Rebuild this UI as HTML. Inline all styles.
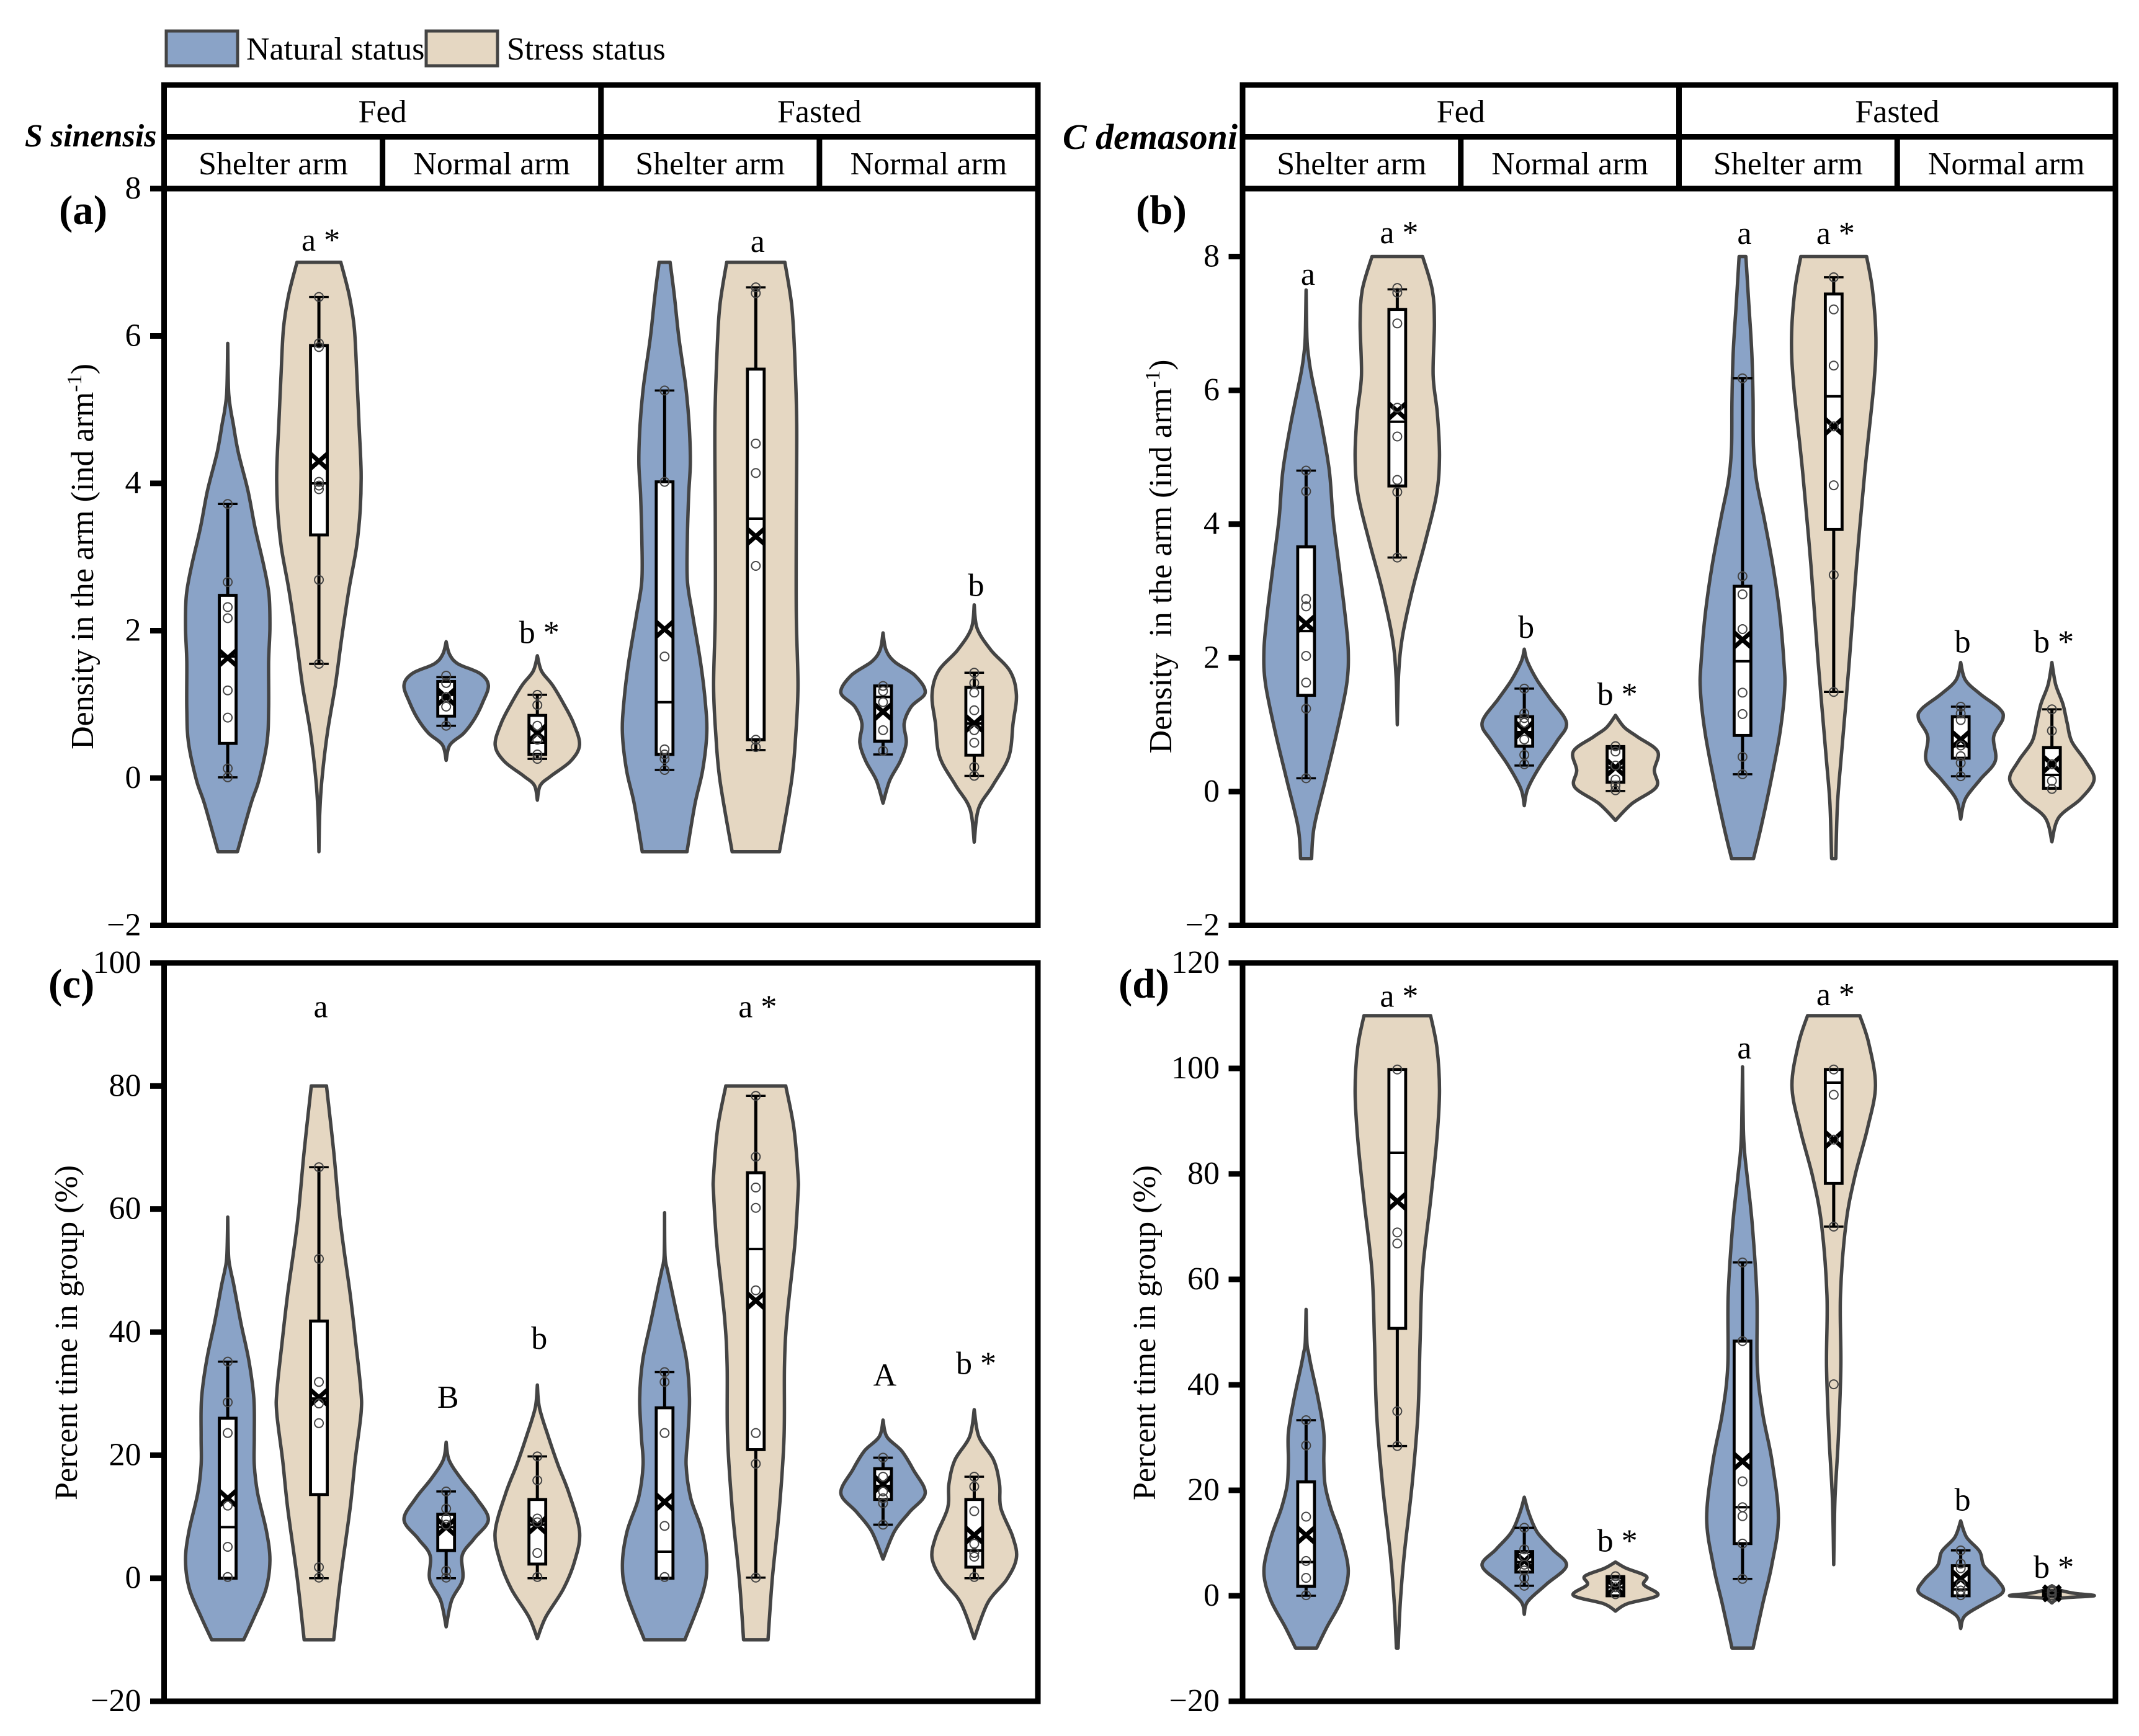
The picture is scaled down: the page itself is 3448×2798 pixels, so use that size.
<!DOCTYPE html>
<html lang="en">
<head>
<meta charset="utf-8">
<title>Density and percent time in group violin plots</title>
<style>
html,body{margin:0;padding:0;background:#fff;}
svg{display:block;font-family:"Liberation Serif","Times New Roman",serif;}
text{fill:#000;}
</style>
</head>
<body>
<svg id="chart" xmlns="http://www.w3.org/2000/svg" width="3448" height="2798" viewBox="0 0 3448 2798">
  <rect x="0" y="0" width="3448" height="2798" fill="#fff"/>
  <g>
    <rect x="268" y="50" width="115" height="56" fill="#8aa3c7" stroke="#444" stroke-width="5"/>
    <text x="397" y="96" font-size="52">Natural status</text>
    <rect x="687" y="50" width="115" height="56" fill="#e5d7c2" stroke="#444" stroke-width="5"/>
    <text x="817" y="96" font-size="52">Stress status</text>
  </g>
  <text x="40" y="236" font-size="52" font-weight="bold" font-style="italic">S sinensis</text>
  <text x="1713" y="240" font-size="58" font-weight="bold" font-style="italic">C demasoni</text>
  <text x="95" y="361" font-size="67" font-weight="bold">(a)</text>
  <text x="1831" y="361" font-size="67" font-weight="bold">(b)</text>
  <text x="78" y="1608" font-size="67" font-weight="bold">(c)</text>
  <text x="1803" y="1608" font-size="67" font-weight="bold">(d)</text>
  <text text-anchor="middle" font-size="52" transform="translate(150,897) rotate(-90)">Density in the arm (ind arm<tspan font-size="34" dy="-19">-1</tspan><tspan dy="19">)</tspan></text>
  <text text-anchor="middle" font-size="52" transform="translate(1888,897) rotate(-90)">Density&#160;&#160;in the arm (ind arm<tspan font-size="34" dy="-19">-1</tspan><tspan dy="19">)</tspan></text>
  <text text-anchor="middle" font-size="52" transform="translate(124,2148) rotate(-90)">Percent time in group (%)</text>
  <text text-anchor="middle" font-size="52" transform="translate(1862,2148) rotate(-90)">Percent time in group (%)</text>
  <g id="plots"></g>
</svg>
<script>
// ---------- shared categories ----------
const facetGroups = ['Fed', 'Fasted'];
const armTypes = ['Shelter arm', 'Normal arm', 'Shelter arm', 'Normal arm'];
const statusNames = ['natural', 'stress'];

// ---------- tick labels ----------
const densityTicksA = [-2, 0, 2, 4, 6, 8];
const densityTicksB = [-2, 0, 2, 4, 6, 8];
const percentTicksC = [-20, 0, 20, 40, 60, 80, 100];
const percentTicksD = [-20, 0, 20, 40, 60, 80, 100, 120];

// ---------- panel (a) ----------
const a1Values = [5.9, 5.26, 5.0, 4.81, 4.42, 3.9, 3.39, 2.87, 2.48, 2.03, 1.58, 0.94, 0.48, -0.03, -0.35, -1];
const a1Density = [0, 0.02, 0.07, 0.13, 0.25, 0.48, 0.65, 0.86, 0.98, 1, 0.97, 0.97, 0.93, 0.74, 0.55, 0.23];
const a2Values = [7, 6.55, 6.1, 5.45, 4.81, 4.16, 3.65, 3.13, 2.55, 1.9, 1.26, 0.61, -0.03, -0.48, -1];
const a2Density = [0.52, 0.72, 0.84, 0.9, 0.95, 1, 0.98, 0.89, 0.71, 0.54, 0.39, 0.2, 0.07, 0.02, 0];
const a3Values = [1.85, 1.68, 1.55, 1.42, 1.26, 1.03, 0.81, 0.61, 0.45, 0.24];
const a3Density = [0, 0.08, 0.28, 0.8, 1, 0.87, 0.68, 0.42, 0.09, 0];
const a4Values = [1.66, 1.45, 1.26, 1, 0.74, 0.45, 0.23, 0.03, -0.1, -0.3];
const a4Density = [0, 0.1, 0.36, 0.63, 0.86, 1, 0.79, 0.33, 0.07, 0];
const a5Values = [7, 6.55, 5.97, 5.32, 4.81, 4.29, 3.84, 3.26, 2.68, 2.23, 1.58, 1.06, 0.61, 0.1, -0.35, -1];
const a5Density = [0.13, 0.23, 0.34, 0.5, 0.58, 0.61, 0.57, 0.54, 0.54, 0.66, 0.85, 0.96, 1, 0.9, 0.72, 0.53];
const a6Values = [7, 6.42, 5.77, 4.81, 3.52, 2.23, 1.26, 0.61, -0.03, -1];
const a6Density = [0.69, 0.85, 0.92, 0.97, 0.96, 0.96, 1, 0.95, 0.85, 0.56];
const a7Values = [1.97, 1.74, 1.58, 1.39, 1.16, 0.97, 0.74, 0.48, 0.23, -0.03, -0.34];
const a7Density = [0, 0.07, 0.27, 0.76, 1, 0.67, 0.5, 0.55, 0.41, 0.16, 0];
const a8Values = [2.35, 2.03, 1.74, 1.45, 1.13, 0.74, 0.29, -0.1, -0.42, -0.87];
const a8Density = [0, 0.07, 0.39, 0.85, 1, 0.92, 0.82, 0.44, 0.1, 0];
// box arrays: low whisker, q1, median, q3, high whisker
const a1Box = [0.01, 0.47, 1.65, 2.48, 3.72];
const a2Box = [1.55, 3.3, 4, 5.87, 6.53];
const a3Box = [0.71, 0.84, 1.13, 1.31, 1.37];
const a4Box = [0.26, 0.32, 0.48, 0.85, 1.13];
const a5Box = [0.11, 0.32, 1.03, 4.02, 5.26];
const a6Box = [0.38, 0.52, 3.52, 5.55, 6.66];
const a7Box = [0.32, 0.5, 1.1, 1.25, 1.25];
const a8Box = [0.03, 0.31, 0.74, 1.23, 1.43];
const aMeans = [1.63, 4.3, 1.1, 0.61, 2.02, 3.28, 0.9, 0.74];
const a1Points = [3.72, 2.66, 2.32, 2.17, 1.19, 0.82, 0.13, 0.01];
const a2Points = [6.53, 5.9, 5.85, 4.02, 3.97, 3.92, 2.69, 1.55];
const a3Points = [1.39, 1.29, 1.1, 0.97, 0.71];
const a4Points = [1.13, 0.99, 0.71, 0.52, 0.32, 0.26];
const a5Points = [5.26, 4.02, 1.65, 0.39, 0.32, 0.26, 0.11];
const a6Points = [6.66, 6.58, 4.54, 4.14, 2.88, 0.52, 0.42];
const a7Points = [1.25, 1.18, 1.03, 0.65, 0.37];
const a8Points = [1.43, 1.29, 1.16, 0.92, 0.65, 0.48, 0.15, 0.03];
const aLabels = ['', 'a *', '', 'b *', '', 'a', '', 'b'];
const aLabelValues = [0, 7.16, 0, 1.83, 0, 7.14, 0, 2.47];

// ---------- panel (b) ----------
const b1Values = [7.5, 6.79, 6.5, 6.22, 5.51, 4.8, 4.09, 3.38, 2.67, 2.1, 1.6, 0.89, 0.18, -0.53, -1];
const b1Density = [0, 0.02, 0.06, 0.13, 0.36, 0.55, 0.64, 0.78, 0.92, 1, 0.96, 0.73, 0.46, 0.19, 0.13];
const b2Values = [8, 7.5, 7, 6.22, 5.65, 5.01, 4.44, 3.73, 3.02, 2.31, 1.74, 1];
const b2Density = [0.6, 0.83, 0.88, 0.85, 0.95, 1, 0.93, 0.66, 0.36, 0.12, 0.03, 0];
const b3Values = [2.13, 1.95, 1.67, 1.39, 1.03, 0.75, 0.39, 0.04, -0.21];
const b3Density = [0, 0.07, 0.3, 0.61, 1, 0.77, 0.38, 0.08, 0];
const b4Values = [1.14, 0.96, 0.82, 0.6, 0.32, 0.07, -0.18, -0.43];
const b4Density = [0, 0.21, 0.52, 1, 0.92, 0.97, 0.39, 0];
const b5Values = [8, 7.28, 6.57, 5.86, 5.15, 4.66, 4.09, 3.38, 2.67, 1.95, 1.53, 0.89, 0.18, -0.53, -1];
const b5Density = [0.08, 0.15, 0.22, 0.25, 0.26, 0.33, 0.51, 0.72, 0.88, 0.98, 1, 0.89, 0.68, 0.44, 0.26];
const b6Values = [8, 7.5, 6.79, 6.08, 4.8, 3.38, 1.95, 0.53, -0.18, -1];
const b6Density = [0.78, 0.92, 1, 0.95, 0.74, 0.54, 0.37, 0.18, 0.09, 0.05];
const b7Values = [1.93, 1.67, 1.46, 1.24, 1.09, 0.82, 0.46, 0.18, -0.11, -0.41];
const b7Density = [0, 0.11, 0.46, 0.92, 1, 0.78, 0.82, 0.46, 0.11, 0];
const b8Values = [1.93, 1.6, 1.31, 1.03, 0.75, 0.46, 0.18, -0.11, -0.39, -0.75];
const b8Density = [0, 0.09, 0.26, 0.36, 0.47, 0.79, 1, 0.68, 0.16, 0];
const b1Box = [0.2, 1.44, 2.4, 3.66, 4.8];
const b2Box = [3.5, 4.57, 5.53, 7.21, 7.51];
const b3Box = [0.39, 0.68, 0.89, 1.12, 1.54];
const b4Box = [0.01, 0.14, 0.36, 0.65, 0.68];
const b5Box = [0.26, 0.84, 1.95, 3.07, 6.18];
const b6Box = [1.49, 3.92, 5.91, 7.44, 7.69];
const b7Box = [0.23, 0.5, 0.68, 1.12, 1.27];
const b8Box = [0.05, 0.05, 0.25, 0.66, 1.23];
const bMeans = [2.51, 5.69, 0.92, 0.36, 2.27, 5.46, 0.78, 0.41];
const b1Points = [4.8, 4.49, 2.88, 2.77, 2.03, 1.63, 1.24, 0.2];
const b2Points = [7.53, 7.46, 7, 5.74, 5.31, 4.66, 4.48, 3.5];
const b3Points = [1.54, 1.17, 1.1, 1.03, 0.78, 0.55, 0.41];
const b4Points = [0.68, 0.6, 0.39, 0.18, 0.09, 0.02];
const b5Points = [6.18, 3.22, 2.95, 2.43, 1.48, 1.16, 0.52, 0.26];
const b6Points = [7.69, 7.21, 6.37, 5.46, 4.58, 3.24, 1.49];
const b7Points = [1.27, 1.17, 1.07, 0.69, 0.53, 0.43, 0.23];
const b8Points = [1.23, 0.91, 0.41, 0.16, 0.04];
const bLabels = ['a', 'a *', 'b', 'b *', 'a', 'a *', 'b', 'b *'];
const bLabelValues = [7.58, 8.2, 2.3, 1.3, 8.19, 8.19, 2.08, 2.08];

// ---------- panel (c) ----------
const c1Values = [58.7, 52.4, 50, 47.8, 41.6, 35.4, 29.2, 23, 18.4, 13.8, 7.6, 2.9, -1.7, -6.3, -10];
const c1Density = [0, 0.02, 0.07, 0.14, 0.31, 0.5, 0.62, 0.63, 0.63, 0.71, 0.92, 1, 0.91, 0.63, 0.38];
const c2Values = [80, 69.4, 57.8, 46.2, 38.5, 30.8, 26.9, 19.2, 11.4, -0.2, -10];
const c2Density = [0.18, 0.35, 0.51, 0.74, 0.87, 0.99, 1, 0.86, 0.74, 0.51, 0.35];
const c3Values = [22.1, 19.2, 16.1, 13, 9.5, 6.4, 3.7, -0.2, -3.6, -7.9];
const c3Density = [0, 0.07, 0.36, 0.72, 1, 0.66, 0.38, 0.39, 0.13, 0];
const c4Values = [31.4, 27.7, 23, 18.4, 13.8, 7.6, 2.9, -1.7, -6.3, -9.8];
const c4Density = [0, 0.05, 0.26, 0.49, 0.75, 1, 0.89, 0.62, 0.2, 0];
const c5Values = [59.4, 52.4, 50, 47.8, 41.6, 35.4, 29.2, 23, 18.4, 13, 7.6, 2.2, -2.5, -10];
const c5Density = [0, 0.01, 0.07, 0.14, 0.33, 0.52, 0.59, 0.55, 0.51, 0.62, 0.89, 1, 0.9, 0.48];
const c6Values = [80, 73.3, 65.5, 62.4, 53.9, 42.3, 34.6, 23, 11.4, -0.2, -10];
const c6Density = [0.71, 0.9, 1, 1, 0.92, 0.74, 0.68, 0.67, 0.56, 0.39, 0.29];
const c7Values = [25.7, 23, 20.7, 17.6, 13.8, 10.7, 7.6, 3.1];
const c7Density = [0, 0.09, 0.44, 0.72, 1, 0.62, 0.27, 0];
const c8Values = [27.4, 23, 19.2, 15.3, 11.4, 6.8, 3.3, -0.2, -4, -9.8];
const c8Density = [0, 0.11, 0.46, 0.6, 0.63, 0.91, 1, 0.77, 0.32, 0];
const c1Box = [0, 0, 8.3, 26, 35.2];
const c2Box = [0, 13.6, 29.2, 41.8, 66.8];
const c3Box = [0, 4.5, 8.3, 10.4, 14.1];
const c4Box = [0, 2.3, 8.7, 12.8, 19.8];
const c5Box = [0, 0, 4.3, 27.7, 33.5];
const c6Box = [0.1, 20.9, 53.5, 65.9, 78.4];
const c7Box = [8.7, 12.8, 15, 17.8, 19.6];
const c8Box = [0, 1.8, 4.5, 12.8, 16.5];
const cMeans = [13, 29.4, 8.3, 8.6, 12.4, 45.1, 15.3, 7];
const c1Points = [35.2, 28.6, 23.6, 11.8, 5.1, 0.2];
const c2Points = [66.8, 51.9, 31.9, 28.4, 25.2, 1.8, 0.1];
const c3Points = [14.1, 11.3, 9.7, 8.7, 1.2, 0.1];
const c4Points = [19.8, 15.9, 9.7, 9.1, 4.1, 0.2];
const c5Points = [33.5, 31.9, 23.6, 8.5, 0.2];
const c6Points = [78.4, 68.5, 63.5, 60.2, 46.8, 23.6, 18.6, 0.1];
const c7Points = [19.6, 16.5, 14.1, 13, 12.2, 8.7];
const c8Points = [16.5, 14.9, 10.9, 5.6, 4.1, 3.5, 0.2];
const cLabels = ['', 'a', 'B', 'b', '', 'a *', 'A', 'b *'];
const cLabelValues = [0, 91.2, 27.7, 37.3, 0, 91.2, 31.3, 33.2];

// ---------- panel (d) ----------
const d1Values = [54.3, 48, 46, 43.5, 37.2, 30.9, 25.5, 21, 16.5, 11.1, 4.8, -0.6, -6, -9.9];
const d1Density = [0, 0.02, 0.06, 0.12, 0.29, 0.42, 0.42, 0.45, 0.59, 0.83, 1, 0.85, 0.49, 0.25];
const d2Values = [110, 103.9, 95.8, 86.8, 75, 61.5, 48, 34.5, 21, 7.5, -1.5, -9.9];
const d2Density = [0.79, 0.94, 1, 0.94, 0.79, 0.6, 0.54, 0.49, 0.35, 0.16, 0.07, 0.02];
const d3Values = [18.7, 15.6, 12, 8.8, 5.7, 2.1, -1.1, -3.5];
const d3Density = [0, 0.11, 0.31, 0.67, 1, 0.51, 0.08, 0];
const d4Values = [6.4, 5.2, 3.7, 2.1, 0.1, -1.5, -2.9];
const d4Density = [0, 0.26, 0.73, 0.67, 1, 0.28, 0];
const d5Values = [100.3, 88.6, 84, 79.5, 70.5, 57, 43.5, 34.5, 25.5, 14.7, 5.7, -1.5, -9.9];
const d5Density = [0, 0.02, 0.05, 0.11, 0.23, 0.34, 0.35, 0.48, 0.7, 0.85, 0.69, 0.48, 0.25];
const d6Values = [110, 104.8, 96.7, 88.6, 79.5, 70.5, 57, 43.5, 30, 18.3, 5.9];
const d6Density = [0.62, 0.83, 0.99, 0.8, 0.5, 0.29, 0.16, 0.17, 0.11, 0.03, 0];
const d7Values = [14.2, 11.1, 8.4, 5.7, 3, 0.7, -1.5, -3.8, -6.2];
const d7Density = [0, 0.14, 0.45, 0.55, 0.87, 1, 0.55, 0.1, 0];
const d8Values = [1.9, 1, 0.45, 0, -0.45, -1.35];
const d8Density = [0, 0.22, 0.55, 1, 0.22, 0];
const d1Box = [0, 1.8, 6.4, 21.6, 33.3];
const d2Box = [28.4, 50.7, 84, 99.8, 99.8];
const d3Box = [1.9, 4.5, 6.4, 8.4, 12.9];
const d4Box = [0, 0, 1.6, 3.4, 3.7];
const d5Box = [3.2, 9.9, 16.8, 48.3, 63.2];
const d6Box = [70, 78.2, 97.3, 99.8, 99.8];
const d7Box = [0, 0, 1.2, 5.7, 8.6];
const d8Box = [0, 0, 0.4, 0.9, 1];
const dMeans = [11.5, 74.8, 6.6, 1.6, 25.5, 86.5, 3.2, 0.45];
const d1Points = [33.3, 28.5, 15, 6.6, 3.4, 0.1];
const d2Points = [99.8, 68.9, 66.8, 35, 28.4];
const d3Points = [12.9, 8.8, 7.5, 5.9, 4.8, 3.4, 1.9];
const d4Points = [3.7, 2.5, 1.6, 0.3];
const d5Points = [63.2, 48.3, 21.7, 16.8, 15.1, 9.9, 3.2];
const d6Points = [99.8, 95, 86.5, 70, 40.1];
const d7Points = [8.6, 6.1, 5.2, 2.1, 1, 0.1];
const d8Points = [1, 0.8, 0.4, 0.1];
const dLabels = ['', 'a *', '', 'b *', 'a', 'a *', 'b', 'b *'];
const dLabelValues = [0, 111.7, 0, 8.4, 101.9, 112, 16.2, 3.4];

// ---------- drawing ----------
const NS = 'http://www.w3.org/2000/svg';
const plots = document.getElementById('plots');
const COLORS = { natural: '#8aa3c7', stress: '#e5d7c2' };
const VIOLIN_HALF = 68;
const DODGE = 73.5;
const FRAME = 9;

function mk(tag, attrs, parent) {
  const el = document.createElementNS(NS, tag);
  for (const k in attrs) el.setAttribute(k, attrs[k]);
  parent.appendChild(el);
  return el;
}

function smooth(pts) {
  let s = '';
  for (let i = 0; i < pts.length - 1; i++) {
    const p0 = pts[Math.max(i - 1, 0)], p1 = pts[i], p2 = pts[i + 1], p3 = pts[Math.min(i + 2, pts.length - 1)];
    const c1x = p1[0] + (p2[0] - p0[0]) / 6, c1y = p1[1] + (p2[1] - p0[1]) / 6;
    const c2x = p2[0] - (p3[0] - p1[0]) / 6, c2y = p2[1] - (p3[1] - p1[1]) / 6;
    s += 'C' + c1x.toFixed(1) + ' ' + c1y.toFixed(1) + ' ' + c2x.toFixed(1) + ' ' + c2y.toFixed(1) + ' ' + p2[0].toFixed(1) + ' ' + p2[1].toFixed(1);
  }
  return s;
}

function drawPanel(p) {
  const y = v => p.zeroY - v * p.unit;
  const width = p.right - p.left;
  const g = mk('g', {}, plots);
  
  

  // violins and boxes
  p.series.forEach((s, i) => {
    const status = statusNames[i % 2];
    const group = Math.floor(i / 2);
    const cx = p.left + (group + 0.5) * width / 4 + (i % 2 ? DODGE : -DODGE);
    const vg = mk('g', {}, g);
    
    

    const right = s.values.map((v, k) => [cx + s.density[k] * VIOLIN_HALF, y(v)]);
    const left = s.values.map((v, k) => [cx - s.density[k] * VIOLIN_HALF, y(v)]).reverse();
    const d = 'M' + right[0][0].toFixed(1) + ' ' + right[0][1].toFixed(1) + smooth(right) +
      'L' + left[0][0].toFixed(1) + ' ' + left[0][1].toFixed(1) + smooth(left) + 'Z';
    const path = mk('path', { d: d, fill: COLORS[status], stroke: '#444', 'stroke-width': 5.5, 'stroke-linejoin': 'round' }, vg);
    
    

    const [low, q1, med, q3, high] = s.box;
    const whisker = mk('path', {
      d: 'M' + cx + ' ' + y(low) + 'V' + y(q1) + 'M' + cx + ' ' + y(q3) + 'V' + y(high),
      stroke: '#000', 'stroke-width': 5, fill: 'none'
    }, vg);
    
    

    const caps = mk('path', {
      d: 'M' + (cx - 15.8) + ' ' + y(low) + 'H' + (cx + 15.8) + 'M' + (cx - 15.8) + ' ' + y(high) + 'H' + (cx + 15.8),
      stroke: '#000', 'stroke-width': 3.5, fill: 'none'
    }, vg);
    
    

    const rect = mk('rect', {
      x: cx - 13.5, y: y(q3), width: 27, height: Math.max(y(q1) - y(q3), 0.5),
      fill: '#fff', stroke: '#000', 'stroke-width': 4.8
    }, vg);
    
    

    const median = mk('line', { x1: cx - 13.5, x2: cx + 13.5, y1: y(med), y2: y(med), stroke: '#000', 'stroke-width': 4 }, vg);
    
    

    const my = y(s.mean);
    const cross = mk('path', {
      d: 'M' + (cx - 13.5) + ' ' + (my - 12) + 'L' + (cx + 13.5) + ' ' + (my + 12) + 'M' + (cx + 13.5) + ' ' + (my - 12) + 'L' + (cx - 13.5) + ' ' + (my + 12),
      stroke: '#000', 'stroke-width': 7, fill: 'none'
    }, vg);
    
    

    s.points.forEach(v => {
      const c = mk('circle', { cx: cx, cy: y(v), r: 7, fill: 'none', stroke: '#444', 'stroke-width': 2 }, vg);
      
      
    });

    if (p.labels[i]) {
      const t = mk('text', { x: cx + 3, y: y(p.labelValues[i]), 'text-anchor': 'middle', 'font-size': 52, 'xml:space': 'preserve' }, g);
      
      
      t.textContent = p.labels[i];
    }
  });

  // frame
  const frame = mk('rect', { x: p.left, y: p.top, width: width, height: p.bottom - p.top, fill: 'none', stroke: '#000', 'stroke-width': FRAME }, g);
  
  

  // y axis
  p.ticks.forEach(v => {
    const tk = mk('line', { x1: p.left - 22.5, x2: p.left, y1: y(v), y2: y(v), stroke: '#000', 'stroke-width': FRAME }, g);
    
    
    const lb = mk('text', { x: p.left - 37, y: y(v) + 16, 'text-anchor': 'end', 'font-size': 52 }, g);
    
    
    lb.textContent = String(v).replace('-', '\u2212');
  });

  // facet strips (top panels only)
  if (p.strip) {
    const stripTop = 137, stripMid = 220.5;
    const lines = mk('path', {
      d: 'M' + (p.left - 4.5) + ' ' + stripTop + 'H' + (p.right + 4.5) +
         'M' + p.right + ' ' + stripTop + 'V' + p.top +
         'M' + p.left + ' ' + stripTop + 'V' + p.top +
         'M' + p.left + ' ' + stripMid + 'H' + p.right +
         'M' + (p.left + width / 2) + ' ' + stripTop + 'V' + p.top +
         'M' + (p.left + width / 4) + ' ' + stripMid + 'V' + p.top +
         'M' + (p.left + 3 * width / 4) + ' ' + stripMid + 'V' + p.top,
      stroke: '#000', 'stroke-width': FRAME, fill: 'none'
    }, g);
    
    
    facetGroups.forEach((name, i) => {
      const t = mk('text', { x: p.left + (i + 0.5) * width / 2, y: 197, 'text-anchor': 'middle', 'font-size': 52 }, g);
      
      
      t.textContent = name;
    });
    armTypes.forEach((name, i) => {
      const t = mk('text', { x: p.left + (i + 0.5) * width / 4, y: 281, 'text-anchor': 'middle', 'font-size': 52 }, g);
      
      
      t.textContent = name;
    });
  }
}

drawPanel({
  id: 'a', left: 264.5, right: 1673, top: 304, bottom: 1491.5, zeroY: 1254, unit: 118.75, strip: true,
  ticks: densityTicksA, labels: aLabels, labelValues: aLabelValues,
  series: [
    { values: a1Values, density: a1Density, box: a1Box, mean: aMeans[0], points: a1Points },
    { values: a2Values, density: a2Density, box: a2Box, mean: aMeans[1], points: a2Points },
    { values: a3Values, density: a3Density, box: a3Box, mean: aMeans[2], points: a3Points },
    { values: a4Values, density: a4Density, box: a4Box, mean: aMeans[3], points: a4Points },
    { values: a5Values, density: a5Density, box: a5Box, mean: aMeans[4], points: a5Points },
    { values: a6Values, density: a6Density, box: a6Box, mean: aMeans[5], points: a6Points },
    { values: a7Values, density: a7Density, box: a7Box, mean: aMeans[6], points: a7Points },
    { values: a8Values, density: a8Density, box: a8Box, mean: aMeans[7], points: a8Points }
  ]
});
drawPanel({
  id: 'b', left: 2003, right: 3410, top: 304, bottom: 1491.5, zeroY: 1275.9, unit: 107.8, strip: true,
  ticks: densityTicksB, labels: bLabels, labelValues: bLabelValues,
  series: [
    { values: b1Values, density: b1Density, box: b1Box, mean: bMeans[0], points: b1Points },
    { values: b2Values, density: b2Density, box: b2Box, mean: bMeans[1], points: b2Points },
    { values: b3Values, density: b3Density, box: b3Box, mean: bMeans[2], points: b3Points },
    { values: b4Values, density: b4Density, box: b4Box, mean: bMeans[3], points: b4Points },
    { values: b5Values, density: b5Density, box: b5Box, mean: bMeans[4], points: b5Points },
    { values: b6Values, density: b6Density, box: b6Box, mean: bMeans[5], points: b6Points },
    { values: b7Values, density: b7Density, box: b7Box, mean: bMeans[6], points: b7Points },
    { values: b8Values, density: b8Density, box: b8Box, mean: bMeans[7], points: b8Points }
  ]
});
drawPanel({
  id: 'c', left: 264.5, right: 1673, top: 1552, bottom: 2742, zeroY: 2543.7, unit: 9.917, strip: false,
  ticks: percentTicksC, labels: cLabels, labelValues: cLabelValues,
  series: [
    { values: c1Values, density: c1Density, box: c1Box, mean: cMeans[0], points: c1Points },
    { values: c2Values, density: c2Density, box: c2Box, mean: cMeans[1], points: c2Points },
    { values: c3Values, density: c3Density, box: c3Box, mean: cMeans[2], points: c3Points },
    { values: c4Values, density: c4Density, box: c4Box, mean: cMeans[3], points: c4Points },
    { values: c5Values, density: c5Density, box: c5Box, mean: cMeans[4], points: c5Points },
    { values: c6Values, density: c6Density, box: c6Box, mean: cMeans[5], points: c6Points },
    { values: c7Values, density: c7Density, box: c7Box, mean: cMeans[6], points: c7Points },
    { values: c8Values, density: c8Density, box: c8Box, mean: cMeans[7], points: c8Points }
  ]
});
drawPanel({
  id: 'd', left: 2003, right: 3410, top: 1552, bottom: 2742, zeroY: 2572, unit: 8.5, strip: false,
  ticks: percentTicksD, labels: dLabels, labelValues: dLabelValues,
  series: [
    { values: d1Values, density: d1Density, box: d1Box, mean: dMeans[0], points: d1Points },
    { values: d2Values, density: d2Density, box: d2Box, mean: dMeans[1], points: d2Points },
    { values: d3Values, density: d3Density, box: d3Box, mean: dMeans[2], points: d3Points },
    { values: d4Values, density: d4Density, box: d4Box, mean: dMeans[3], points: d4Points },
    { values: d5Values, density: d5Density, box: d5Box, mean: dMeans[4], points: d5Points },
    { values: d6Values, density: d6Density, box: d6Box, mean: dMeans[5], points: d6Points },
    { values: d7Values, density: d7Density, box: d7Box, mean: dMeans[6], points: d7Points },
    { values: d8Values, density: d8Density, box: d8Box, mean: dMeans[7], points: d8Points }
  ]
});
</script>
</body>
</html>
